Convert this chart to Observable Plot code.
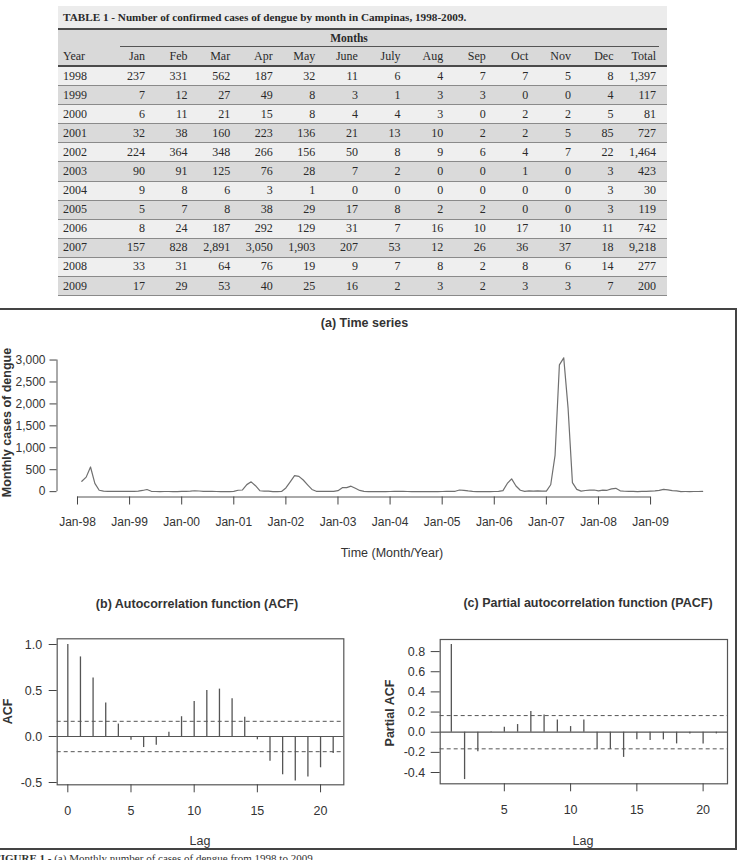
<!DOCTYPE html>
<html><head><meta charset="utf-8">
<script src="https://cdn.jsdelivr.net/npm/d3@7"></script>
<script src="https://cdn.jsdelivr.net/npm/@observablehq/plot@0.6"></script>
<style>
html,body{margin:0;padding:0;background:#fff;}
body{width:738px;height:860px;position:relative;overflow:hidden;font-family:"Liberation Sans",Arial,sans-serif;}
.abs{position:absolute;}
#table{position:absolute;left:58px;top:6px;width:609px;font-family:"Liberation Serif","Times New Roman",serif;font-size:12px;color:#2a2a2a;}
#frame{position:absolute;left:-3px;top:308px;width:740px;height:542px;border:2px solid #444;box-sizing:border-box;}
#caption{position:absolute;left:-6px;top:852px;font-family:"Liberation Serif","Times New Roman",serif;font-size:11px;color:#333;white-space:nowrap;line-height:12px;}
#labels{position:absolute;left:0;top:0;pointer-events:none;}
</style></head><body>
<div id="table"></div>
<div id="frame"></div>
<div id="ts" class="abs" style="left:0;top:320px;"></div>
<div id="acf" class="abs" style="left:0;top:620px;"></div>
<div id="pacf" class="abs" style="left:368px;top:620px;"></div>
<div id="caption"><b>FIGURE 1 -</b> (a) Monthly number of cases of dengue from 1998 to 2009.</div>
<script>
// ---------- data ----------
const years = [1998,1999,2000,2001,2002,2003,2004,2005,2006,2007,2008,2009];
const monthLabels = ["Jan","Feb","Mar","Apr","May","June","July","Aug","Sep","Oct","Nov","Dec"];
const cases = [
  [237,331,562,187,32,11,6,4,7,7,5,8],
  [7,12,27,49,8,3,1,3,3,0,0,4],
  [6,11,21,15,8,4,4,3,0,2,2,5],
  [32,38,160,223,136,21,13,10,2,2,5,85],
  [224,364,348,266,156,50,8,9,6,4,7,22],
  [90,91,125,76,28,7,2,0,0,1,0,3],
  [9,8,6,3,1,0,0,0,0,0,0,3],
  [5,7,8,38,29,17,8,2,2,0,0,3],
  [8,24,187,292,129,31,7,16,10,17,10,11],
  [157,828,2891,3050,1903,207,53,12,26,36,37,18],
  [33,31,64,76,19,9,7,8,2,8,6,14],
  [17,29,53,40,25,16,2,3,2,3,3,7]
];
const totals = [1397,117,81,727,1464,423,30,119,742,9218,277,200];
const xTickLabels = ["Jan-98","Jan-99","Jan-00","Jan-01","Jan-02","Jan-03","Jan-04","Jan-05","Jan-06","Jan-07","Jan-08","Jan-09"];
const yTicksTS = [0,500,1000,1500,2000,2500,3000];
const acfLags = [0,1,2,3,4,5,6,7,8,9,10,11,12,13,14,15,16,17,18,19,20,21];
const acfValues = [1.0,0.865,0.635,0.365,0.135,-0.04,-0.12,-0.095,0.047,0.215,0.38,0.5,0.515,0.41,0.21,-0.036,-0.27,-0.416,-0.485,-0.44,-0.34,-0.186];
const pacfLags = [1,2,3,4,5,6,7,8,9,10,11,12,13,14,15,16,17,18,19,20,21];
const pacfValues = [0.87,-0.47,-0.195,0.005,0.05,0.076,0.205,0.17,0.12,0.056,0.12,-0.17,-0.17,-0.25,-0.076,-0.083,-0.076,-0.116,-0.017,-0.116,-0.017];
const ciBound = 0.165;

// ---------- table ----------
const tbl = document.getElementById("table");
const colTemplate = "44.4px repeat(13, 42.6px) 11px";
function div(parent, css, text) {
  const d = document.createElement("div");
  d.style.cssText = css;
  if (text != null) d.textContent = text;
  parent.appendChild(d);
  return d;
}
div(tbl, "height:22px;line-height:22px;background:#ececec;font-weight:bold;font-size:11.2px;padding-left:5px;white-space:nowrap;",
  "TABLE 1 - Number of confirmed cases of dengue by month in Campinas, 1998-2009.");
div(tbl, "height:2px;background:#4a4a4a;");
const mrow = div(tbl, "height:17px;background:#d9d9d9;position:relative;");
div(mrow, "position:absolute;left:291px;top:0;transform:translateX(-50%);line-height:16px;font-weight:bold;font-size:11.5px;", "Months");
div(mrow, "position:absolute;left:62px;width:539px;bottom:0;height:1px;background:#555;");
function gridRow(h, bg, extra) {
  return div(tbl, `display:grid;grid-template-columns:${colTemplate};height:${h}px;background:${bg};box-sizing:border-box;align-items:center;${extra||""}`);
}
const hrow = gridRow(18, "#d9d9d9");
div(hrow, "text-align:left;padding-left:5px;", "Year");
monthLabels.forEach(m => div(hrow, "text-align:right;", m));
div(hrow, "text-align:right;", "Total");
div(hrow, "");
div(tbl, "height:2px;background:#4a4a4a;");
const fmt = d3.format(",");
years.forEach((y, i) => {
  const r = gridRow(19.1, i % 2 === 0 ? "#efefef" : "#dadada", "border-bottom:1px solid #8a8a8a;");
  div(r, "text-align:left;padding-left:5px;", String(y));
  cases[i].forEach(v => div(r, "text-align:right;", fmt(v)));
  div(r, "text-align:right;", fmt(totals[i]));
  div(r, "");
});

// ---------- (a) time series ----------
const series = cases.flat().map((v, i) => ({t: i + 1, value: v}));
const tsX = [-4.72, 149.72], tsY = [-122, 3172];
const tsTickPos = xTickLabels.map((_, i) => i * 12);
const ts = Plot.plot({
  width: 736, height: 250,
  marginLeft: 56.5, marginRight: 9, marginTop: 32, marginBottom: 73.5,
  style: {fontFamily: "Liberation Sans, Arial, sans-serif", fontSize: "12px", color: "#444", background: "transparent", overflow: "visible"},
  x: {domain: tsX, label: null},
  y: {domain: tsY, label: null},
  marks: [
    Plot.ruleX([tsX[0]], {y1: yTicksTS[0], y2: yTicksTS[yTicksTS.length - 1], stroke: "#555"}),
    Plot.ruleY([tsY[0]], {x1: tsTickPos[0], x2: tsTickPos[tsTickPos.length - 1], stroke: "#555"}),
    Plot.axisY({ticks: yTicksTS, tickSize: 7, tickPadding: 4.5, tickFormat: d3.format(","), label: null, fill: "#333"}),
    Plot.axisX({ticks: tsTickPos, tickSize: 8, tickPadding: 12.5, tickFormat: (d) => xTickLabels[tsTickPos.indexOf(d)], label: null, fill: "#333"}),
    Plot.lineY(series, {x: "t", y: "value", stroke: "#707070", strokeWidth: 1.2})
  ]
});
document.getElementById("ts").appendChild(ts);

// ---------- (b) ACF ----------
const acfData = acfLags.map((l, i) => ({lag: l, value: acfValues[i]}));
const f1 = d => d.toFixed(1);
const acf = Plot.plot({
  width: 368, height: 200,
  marginLeft: 56.7, marginRight: 24.7, marginTop: 18.3, marginBottom: 35.7,
  style: {fontFamily: "Liberation Sans, Arial, sans-serif", fontSize: "12.5px", color: "#444", background: "transparent", overflow: "visible"},
  x: {domain: [-0.84, 21.84], label: null},
  y: {domain: [-0.525, 1.062], label: null},
  marks: [
    Plot.ruleY([0], {stroke: "#555", strokeWidth: 1.2}),
    Plot.ruleY([ciBound, -ciBound], {stroke: "#555", strokeDasharray: "4,3"}),
    Plot.ruleX(acfData, {x: "lag", y1: () => 0, y2: "value", stroke: "#555", strokeWidth: 1.3}),
    Plot.frame({stroke: "#555", strokeWidth: 1.2}),
    Plot.axisY({ticks: [-0.5, 0, 0.5, 1], tickSize: 8, tickPadding: 7, tickFormat: f1, label: null, fill: "#333"}),
    Plot.axisX({ticks: [0, 5, 10, 15, 20], tickSize: 8, tickPadding: 13.5, label: null, fill: "#333"})
  ]
});
document.getElementById("acf").appendChild(acf);

// ---------- (c) PACF ----------
const pacfData = pacfLags.map((l, i) => ({lag: l, value: pacfValues[i]}));
const pacf = Plot.plot({
  width: 368, height: 200,
  marginLeft: 71.7, marginRight: 9, marginTop: 19, marginBottom: 36.7,
  style: {fontFamily: "Liberation Sans, Arial, sans-serif", fontSize: "12.5px", color: "#444", background: "transparent", overflow: "visible"},
  x: {domain: [0.16, 21.84], label: null},
  y: {domain: [-0.512, 0.92], label: null},
  marks: [
    Plot.ruleY([0], {stroke: "#555", strokeWidth: 1.2}),
    Plot.ruleY([ciBound, -ciBound], {stroke: "#555", strokeDasharray: "4,3"}),
    Plot.ruleX(pacfData, {x: "lag", y1: () => 0, y2: "value", stroke: "#555", strokeWidth: 1.3}),
    Plot.frame({stroke: "#555", strokeWidth: 1.2}),
    Plot.axisY({ticks: [-0.4, -0.2, 0, 0.2, 0.4, 0.6, 0.8], tickSize: 9, tickPadding: 6, tickFormat: f1, label: null, fill: "#333"}),
    Plot.axisX({ticks: [5, 10, 15, 20], tickSize: 8, tickPadding: 13.5, label: null, fill: "#333"})
  ]
});
document.getElementById("pacf").appendChild(pacf);

// ---------- titles and axis labels ----------
const svg = d3.select("body").append("svg").attr("id", "labels").attr("width", 738).attr("height", 860)
  .style("font-family", "Liberation Sans, Arial, sans-serif").style("fill", "#333");
function label(text, x, y, opts = {}) {
  const t = svg.append("text").text(text).attr("text-anchor", "middle")
    .attr("font-size", opts.size || 12.5).attr("font-weight", opts.bold ? "bold" : "normal");
  if (opts.rotate) t.attr("transform", `translate(${x},${y}) rotate(-90)`);
  else t.attr("x", x).attr("y", y);
}
label("(a) Time series", 364.5, 327, {bold: true});
label("Monthly cases of dengue", 11, 422.5, {bold: true, rotate: true});
label("Time (Month/Year)", 392, 557);
label("(b) Autocorrelation function (ACF)", 197, 608, {bold: true});
label("ACF", 11.5, 711.5, {bold: true, rotate: true});
label("Lag", 200, 845);
label("(c) Partial autocorrelation function (PACF)", 588, 607, {bold: true});
label("Partial ACF", 394, 713, {bold: true, rotate: true});
label("Lag", 583, 844.5);
</script>
</body></html>
